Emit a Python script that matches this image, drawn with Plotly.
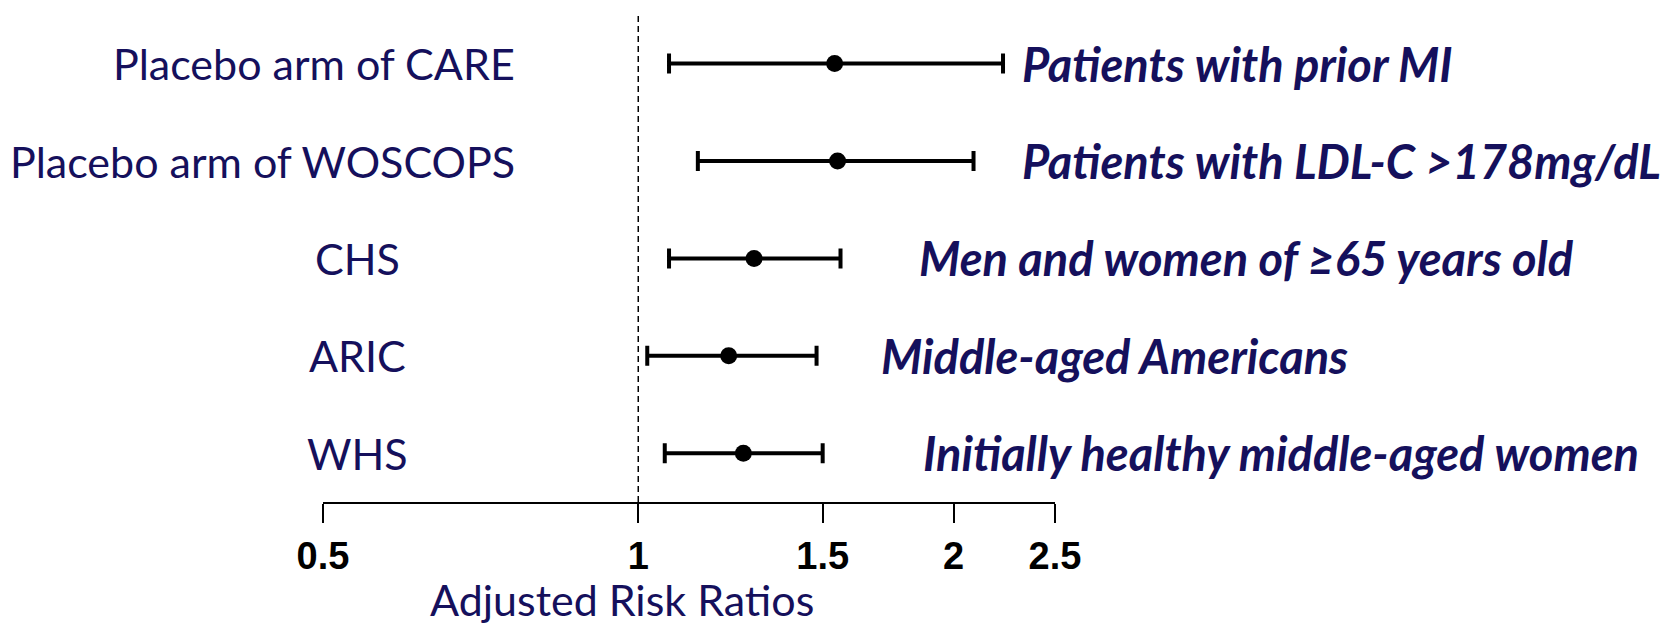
import math
import plotly.graph_objects as go

# ---- data ----
studies = ["Placebo arm of CARE", "Placebo arm of WOSCOPS", "CHS", "ARIC", "WHS"]
populations = ["Patients with prior MI", "Patients with LDL-C >178mg/dL",
               "Men and women of \u226565 years old", "Middle-aged Americans",
               "Initially healthy middle-aged women"]
risk_ratio = [1.54, 1.55, 1.29, 1.22, 1.26]
ci_lower = [1.07, 1.14, 1.07, 1.02, 1.06]
ci_upper = [2.23, 2.09, 1.56, 1.48, 1.50]
tick_values = [0.5, 1, 1.5, 2, 2.5]
tick_labels = ["0.5", "1", "1.5", "2", "2.5"]
x_title = "Adjusted Risk Ratios"
null_value = 1

NAVY = "#15105c"
n = len(studies)
rows = [n - 1 - i for i in range(n)]

fig = go.Figure()
fig.add_trace(go.Scatter(
    x=risk_ratio, y=rows, mode="markers",
    marker=dict(color="black", size=17, symbol="circle"),
    error_x=dict(type="data", symmetric=False,
                 array=[u - r for u, r in zip(ci_upper, risk_ratio)],
                 arrayminus=[r - l for r, l in zip(risk_ratio, ci_lower)],
                 color="black", thickness=4, width=10),
    showlegend=False, hoverinfo="skip"))

# reference line at 1
fig.add_shape(type="line", xref="x", yref="y",
              x0=null_value, x1=null_value, y0=-0.5, y1=4.52,
              line=dict(color="black", width=1.5, dash="6px,4px"), layer="below")

# left study labels
left_x = [0.2655, 0.2655, 0.047, 0.047, 0.047]
left_anchor = ["right", "right", "center", "center", "center"]
for s, y, lx, anc in zip(studies, rows, left_x, left_anchor):
    fig.add_annotation(text=s, x=lx, y=y, xref="paper", yref="y",
                       xanchor=anc, yanchor="middle", showarrow=False,
                       font=dict(family="Lato", size=43, color=NAVY))

# right population labels
right_x = [0.952, 0.952, 0.812, 0.760, 0.817]
for p, y, rx in zip(populations, rows, right_x):
    fig.add_annotation(text="<b><i>" + p + "</i></b>", x=rx, y=y,
                       xref="paper", yref="y", xanchor="left", yanchor="middle",
                       showarrow=False,
                       font=dict(family="Lato", size=47, color=NAVY))

# x-axis title as annotation (offset to the left like the reference)
fig.add_annotation(text=x_title, x=0.409, y=-0.2541, xref="paper", yref="paper",
                   xanchor="center", yanchor="bottom", showarrow=False,
                   font=dict(family="Lato", size=43, color=NAVY))

fig.update_xaxes(type="log", range=[math.log10(0.5), math.log10(2.5)],
                 tickvals=tick_values, ticktext=["<b>" + t + "</b>" for t in tick_labels],
                 tickfont=dict(family="Liberation Sans", size=38, color="black"),
                 showline=True, linecolor="black", linewidth=2,
                 ticks="outside", ticklen=19, tickwidth=2, tickcolor="black",
                 showgrid=False, zeroline=False)
fig.update_yaxes(range=[-0.5, 4.55], visible=False, showgrid=False, zeroline=False)

fig.update_layout(width=1669, height=630, autosize=False,
                  margin=dict(l=323, r=614, t=10, b=128),
                  plot_bgcolor="white", paper_bgcolor="white")

fig.write_html("out.html", config={"displayModeBar": False},
               post_script="document.body.style.margin='0';")
